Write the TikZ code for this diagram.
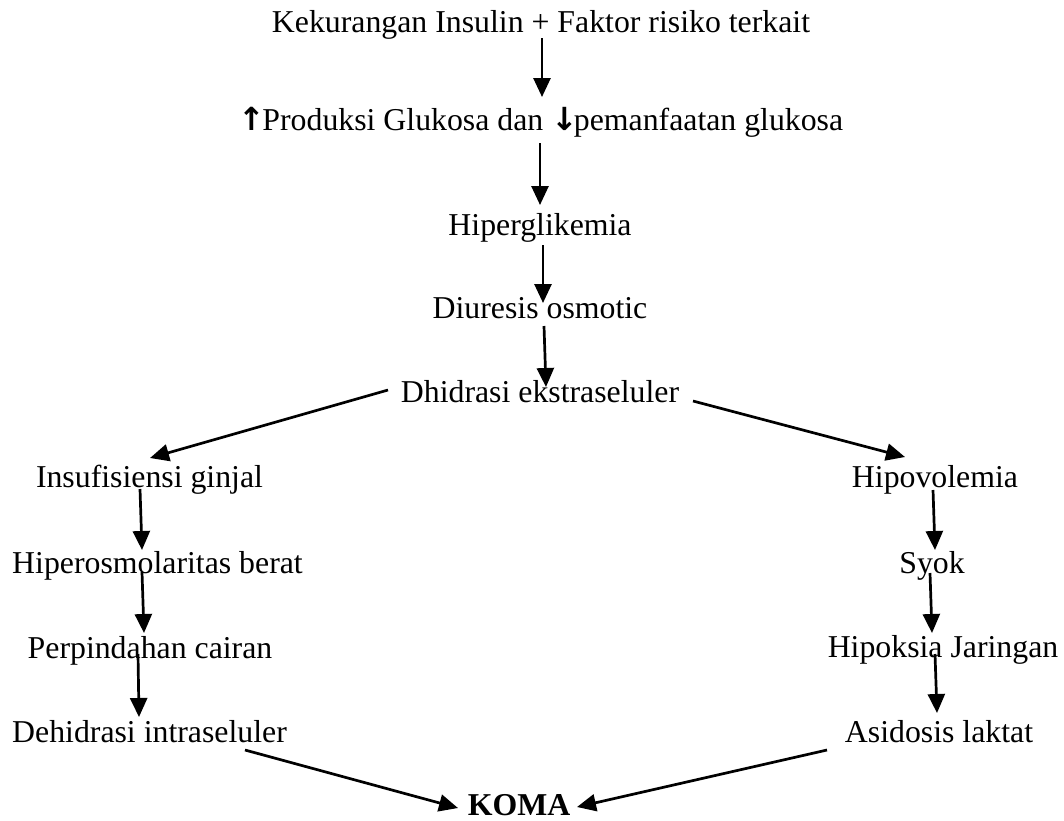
\documentclass[tikz,border=0pt]{standalone}
\usepackage{fontspec}
\setmainfont{Liberation Serif}
\newfontfamily\arrowfont{DejaVu Sans}
\usetikzlibrary{arrows.meta}
\tikzset{
  lbl/.style={anchor=base, inner sep=0pt, font=\fontsize{15.9pt}{19pt}\selectfont},
  flow/.style={line width=1.35pt, -{Triangle[length=9.5pt,width=8.5pt]}}
}
\begin{document}
\begin{tikzpicture}[x=0.5pt,y=-0.5pt]
\useasboundingbox (0,0) rectangle (1064,820);
% texts
\node[lbl] (t1) at (541,32) {Kekurangan Insulin + Faktor risiko terkait};
\node[lbl] (t2) at (541,130) {{\arrowfont\bfseries ↑}\kern-1.5pt Produksi Glukosa dan {\arrowfont\bfseries ↓}\kern-2pt pemanfaatan glukosa};
\node[lbl] (t3) at (540,235) {Hiperglikemia};
\node[lbl] (t4) at (540,318) {Diuresis osmotic};
\node[lbl] (t5) at (540,402) {Dhidrasi ekstraseluler};
\node[lbl] (l1) at (149.5,487) {Insufisiensi ginjal};
\node[lbl] (l2) at (157.5,573) {Hiperosmolaritas berat};
\node[lbl] (l3) at (150,658) {Perpindahan cairan};
\node[lbl] (l4) at (149.5,742) {Dehidrasi intraseluler};
\node[lbl] (r1) at (935,487) {Hipovolemia};
\node[lbl] (r2) at (932,573) {Syok};
\node[lbl] (r3) at (943,657) {Hipoksia Jaringan};
\node[lbl] (r4) at (939,742) {Asidosis laktat};
\node[lbl,font=\fontsize{15.9pt}{19pt}\selectfont\bfseries] (koma) at (519,815) {KOMA};
% arrow end points
\coordinate (a1s) at (542,38);  \coordinate (a1e) at (542,97);
\coordinate (a2s) at (540,143); \coordinate (a2e) at (540,205);
\coordinate (a3s) at (543,245); \coordinate (a3e) at (543,303);
\coordinate (a4s) at (544,326); \coordinate (a4e) at (546,387);
\coordinate (a5ls) at (388,390); \coordinate (a5le) at (150,458);
\coordinate (a5rs) at (693,401); \coordinate (a5re) at (905,457);
\coordinate (l1s) at (140,489); \coordinate (l1e) at (142,550);
\coordinate (l2s) at (142,572); \coordinate (l2e) at (144,633);
\coordinate (l3s) at (138,654); \coordinate (l3e) at (139,717);
\coordinate (l4s) at (245,750); \coordinate (l4e) at (458,808);
\coordinate (r1s) at (933,490); \coordinate (r1e) at (935,550);
\coordinate (r2s) at (930,573); \coordinate (r2e) at (932,633);
\coordinate (r3s) at (935,654); \coordinate (r3e) at (937,713);
\coordinate (r4s) at (827,750); \coordinate (r4e) at (577,807);
% arrows
\draw[flow] (a1s) -- (a1e);
\draw[flow] (a2s) -- (a2e);
\draw[flow] (a3s) -- (a3e);
\draw[flow] (a4s) -- (a4e);
\draw[flow] (a5ls) -- (a5le);
\draw[flow] (a5rs) -- (a5re);
\draw[flow] (l1s) -- (l1e);
\draw[flow] (l2s) -- (l2e);
\draw[flow] (l3s) -- (l3e);
\draw[flow] (l4s) -- (l4e);
\draw[flow] (r1s) -- (r1e);
\draw[flow] (r2s) -- (r2e);
\draw[flow] (r3s) -- (r3e);
\draw[flow] (r4s) -- (r4e);
\end{tikzpicture}
\end{document}
